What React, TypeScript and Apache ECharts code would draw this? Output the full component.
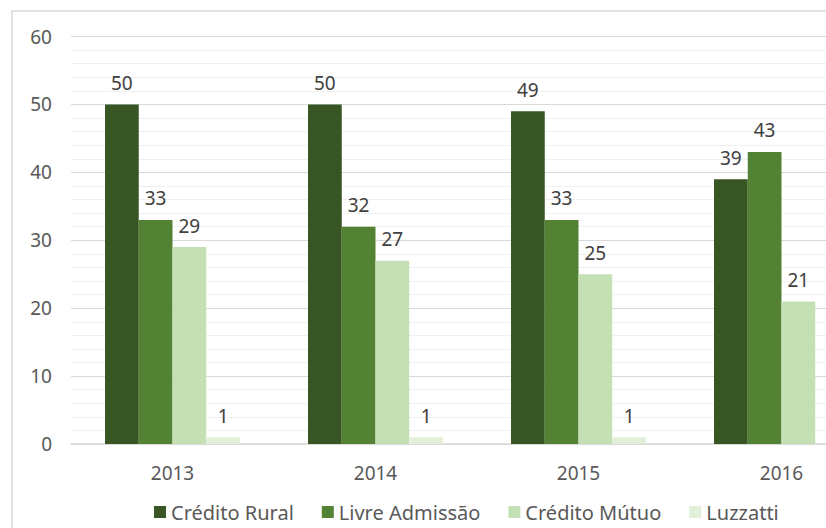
import React, { useEffect, useRef } from "react";
import * as echarts from "echarts";

const categories = ["2013", "2014", "2015", "2016"];
const seriesNames = ["Crédito Rural", "Livre Admissão", "Crédito Mútuo", "Luzzatti"];
const creditoRural = [50, 50, 49, 39];
const livreAdmissao = [33, 32, 33, 43];
const creditoMutuo = [29, 27, 25, 21];
const luzzatti: (number | null)[] = [1, 1, 1, null];
const colors = ["#375623", "#548235", "#C5E0B4", "#E2F0D9"];
const yMin = 0;
const yMax = 60;
const yInterval = 10;

const FONT = "'Noto Sans', sans-serif";

export default function App() {
  const ref = useRef<HTMLDivElement>(null);
  useEffect(() => {
    if (!ref.current) return;
    const chart = echarts.init(ref.current, null, { renderer: "svg" });
    const values = [creditoRural, livreAdmissao, creditoMutuo, luzzatti];
    chart.setOption({
      animation: false,
      backgroundColor: "#ffffff",
      textStyle: { fontFamily: FONT },
      graphic: [
        {
          type: "rect",
          silent: true,
          shape: { x: 12, y: 11, width: 910, height: 600 },
          style: { fill: "none", stroke: "#d9d9d9", lineWidth: 1.5 },
        },
      ],
      grid: { left: 71, top: 36.5, width: 812, height: 407.5, containLabel: false },
      legend: {
        left: 149,
        top: 497,
        itemWidth: 12,
        itemHeight: 12,
        itemGap: 28,
        icon: "rect",
        textStyle: { fontSize: 20, color: "#595959", fontFamily: FONT },
        data: seriesNames,
      },
      xAxis: {
        type: "category",
        data: categories,
        axisLine: { show: true, lineStyle: { color: "#d9d9d9", width: 1.5 } },
        axisTick: { show: false },
        axisLabel: { fontSize: 19, color: "#595959", margin: 19, fontFamily: FONT },
        splitLine: { show: false },
      },
      yAxis: {
        type: "value",
        min: yMin,
        max: yMax,
        interval: yInterval,
        axisLine: { show: false },
        axisTick: { show: false },
        axisLabel: { fontSize: 19, color: "#595959", margin: 19, fontFamily: FONT },
        splitLine: { show: true, lineStyle: { color: "#d9d9d9", width: 1 } },
        minorTick: { show: false, splitNumber: 5 },
        minorSplitLine: { show: true, lineStyle: { color: "#f0f0f0", width: 1 } },
      },
      series: seriesNames.map((name, i) => ({
        name,
        type: "bar",
        data: values[i],
        barGap: "0%",
        barCategoryGap: "33.5%",
        itemStyle: { color: colors[i] },
        label: {
          show: true,
          position: "top",
          distance: 12,
          fontSize: 19,
          color: "#404040",
          fontFamily: FONT,
        },
      })),
    });
    return () => chart.dispose();
  }, []);
  return (
    <div
      style={{
        position: "fixed",
        left: 0,
        top: 0,
        width: 826,
        height: 528,
        overflow: "hidden",
        background: "#fff",
      }}
    >
      <div ref={ref} style={{ position: "absolute", left: 0, top: 0, width: 940, height: 528 }} />
    </div>
  );
}
